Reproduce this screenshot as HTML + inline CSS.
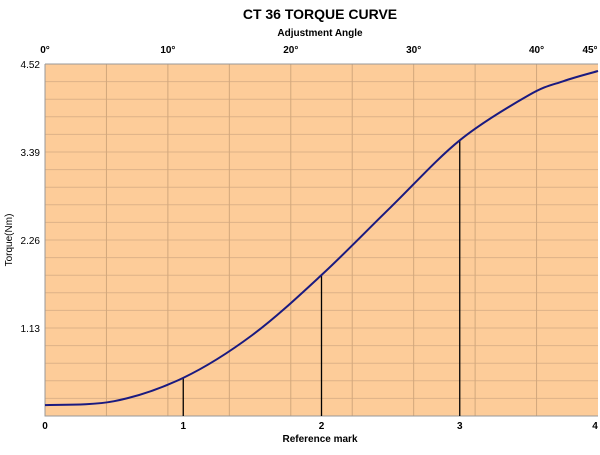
<!DOCTYPE html>
<html><head><meta charset="utf-8"><style>
body{margin:0;background:#fff;font-family:"Liberation Sans",sans-serif}
svg text{font-family:"Liberation Sans",sans-serif}
</style></head><body>
<svg id="c" width="600" height="450">
<text x="320" y="19" text-anchor="middle" font-size="14" font-weight="bold">CT 36 TORQUE CURVE</text>
<text x="320" y="36" text-anchor="middle" font-size="10" font-weight="bold">Adjustment Angle</text>
<text x="320" y="442" text-anchor="middle" font-size="10" font-weight="bold">Reference mark</text>
<text transform="translate(12,240) rotate(-90)" text-anchor="middle" font-size="10">Torque(Nm)</text>
<rect x="45" y="64" width="553" height="352" fill="#fdcc99"/>
<g id="grid"></g><g id="marks"></g><g id="labels"></g>
</svg>
<script>
const marks=[0,0.5,1,1.5,2,2.5,3,3.5,3.75,4];
const torque=[0.14,0.19,0.49,1.04,1.81,2.68,3.54,4.12,4.30,4.43];
const refTicks=[0,1,2,3,4];
const dropMarks=[1,2,3];
const yTicks=[1.13,2.26,3.39,4.52];
const angleTicks=[0,10,20,30,40,45];
const L=45,R=598,T=64,B=416;
const X=m=>L+m/4*(R-L), Y=v=>B-v/4.52*(B-T), A=d=>L+d/45*(R-L);
const ns="http://www.w3.org/2000/svg";
function mk(p,t,a){const e=document.createElementNS(ns,t);for(const k in a)e.setAttribute(k,a[k]);document.getElementById(p).appendChild(e);return e;}
for(let i=1;i<20;i++){const y=T+i*(B-T)/20;
const e=mk('grid','line',{x1:L,x2:R,y1:y,y2:y,stroke:'#ddb288','stroke-width':1});

}
for(let i=1;i<9;i++){const x=L+i*(R-L)/9;
const e=mk('grid','line',{x1:x,x2:x,y1:T,y2:B,stroke:'#d2a77c','stroke-width':1});

}
const ax=mk('grid','path',{d:`M${L},${T}V${B}H${R}M${L},${T}H${R}`,stroke:'#999',fill:'none'});


function interp(m){for(let i=0;i<marks.length-1;i++)if(m>=marks[i]&&m<=marks[i+1]){const t=(m-marks[i])/(marks[i+1]-marks[i]);return torque[i]+t*(torque[i+1]-torque[i]);}return torque[torque.length-1];}
dropMarks.forEach(m=>{const e=mk('marks','line',{x1:X(m),x2:X(m),y1:Y(interp(m)),y2:B,stroke:'#000','stroke-width':1.3});

});
const P=marks.map((m,i)=>[X(m),Y(torque[i])]);
let d=`M${P[0][0]},${P[0][1]}`;
for(let i=0;i<P.length-1;i++){const p0=P[i-1]||P[i],p1=P[i],p2=P[i+1],p3=P[i+2]||P[i+1];
d+=`C${p1[0]+(p2[0]-p0[0])/6},${p1[1]+(p2[1]-p0[1])/6} ${p2[0]-(p3[0]-p1[0])/6},${p2[1]-(p3[1]-p1[1])/6} ${p2[0]},${p2[1]}`;}
const c=mk('marks','path',{d,stroke:'#1a1a80',fill:'none','stroke-width':2});


refTicks.forEach(m=>{const e=mk('labels','text',{x:X(m)-(m==4?3:0),y:429,'text-anchor':'middle','font-size':10,'font-weight':'bold'});e.textContent=m;

});
yTicks.forEach(v=>{const e=mk('labels','text',{x:40,y:Y(v)+4,'text-anchor':'end','font-size':10});e.textContent=v.toFixed(2);

});
angleTicks.forEach(a=>{const e=mk('labels','text',{x:A(a)-(a==45?8:0),y:53,'text-anchor':'middle','font-size':10,'font-weight':'bold'});e.textContent=a+'°';

});
</script>
</body></html>
